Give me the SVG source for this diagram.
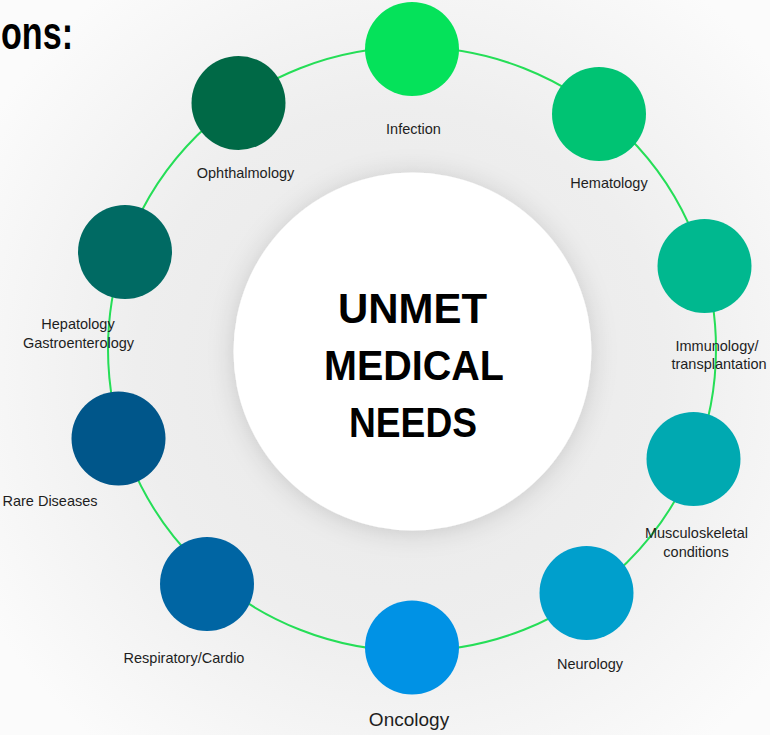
<svg xmlns="http://www.w3.org/2000/svg" width="770" height="735" viewBox="0 0 770 735">
  <defs>
    <radialGradient id="bg" cx="400" cy="370" r="480" gradientUnits="userSpaceOnUse">
      <stop offset="0" stop-color="#e8e8e8"/>
      <stop offset="0.55" stop-color="#eeeeee"/>
      <stop offset="1" stop-color="#fbfbfb"/>
    </radialGradient>
    <filter id="shadow" x="-30%" y="-30%" width="160%" height="160%">
      <feDropShadow dx="0" dy="2" stdDeviation="13" flood-color="#000000" flood-opacity="0.15"/>
    </filter>
    <style>
      .lbl { font-family: "Liberation Sans", Arial, sans-serif; font-size: 14.5px; fill: #1e1e1e; text-anchor: middle; }
      .big { font-family: "Liberation Sans", Arial, sans-serif; font-size: 42px; font-weight: bold; fill: #000; text-anchor: middle; }
      .ring { fill: none; stroke: #25de57; stroke-width: 2; }
    </style>
  </defs>
  <rect x="0" y="0" width="770" height="735" fill="url(#bg)"/>
  <text x="1" y="49" font-family="'Liberation Sans', Arial, sans-serif" font-size="46" font-weight="bold" fill="#000" textLength="72" lengthAdjust="spacingAndGlyphs">ons:</text>

  <g id="connectors">
    <ellipse class="ring" cx="412" cy="349" rx="304" ry="302"/>
  </g>

  <g id="center">
    <circle cx="412.5" cy="351.5" r="179" fill="#ffffff" filter="url(#shadow)"/>
    <text class="big" x="412.5" y="323" textLength="149" lengthAdjust="spacingAndGlyphs">UNMET</text>
    <text class="big" x="414" y="380" textLength="180" lengthAdjust="spacingAndGlyphs">MEDICAL</text>
    <text class="big" x="413" y="437" textLength="128" lengthAdjust="spacingAndGlyphs">NEEDS</text>
  </g>

  <g id="infection">
    <circle cx="412" cy="49" r="47" fill="#05e25a"/>
    <text class="lbl" x="413.5" y="134">Infection</text>
  </g>
  <g id="hematology">
    <circle cx="599" cy="114" r="47" fill="#00c373"/>
    <text class="lbl" x="609" y="188">Hematology</text>
  </g>
  <g id="immunology">
    <circle cx="704.5" cy="266" r="47" fill="#00b88f"/>
    <text class="lbl" x="717" y="351">Immunology/</text>
    <text class="lbl" x="719" y="369">transplantation</text>
  </g>
  <g id="musculoskeletal">
    <circle cx="693.5" cy="459" r="47" fill="#00a9b1"/>
    <text class="lbl" x="696.5" y="538">Musculoskeletal</text>
    <text class="lbl" x="696" y="557">conditions</text>
  </g>
  <g id="neurology">
    <circle cx="586.5" cy="593" r="47" fill="#009fcc"/>
    <text class="lbl" x="590" y="669">Neurology</text>
  </g>
  <g id="oncology">
    <circle cx="412" cy="647.5" r="47" fill="#0092e5"/>
    <text class="lbl" x="409" y="726" style="font-size:19px">Oncology</text>
  </g>
  <g id="respiratory">
    <circle cx="207" cy="584" r="47" fill="#0065a3"/>
    <text class="lbl" x="184" y="663">Respiratory/Cardio</text>
  </g>
  <g id="rare-diseases">
    <circle cx="118.5" cy="438.5" r="47" fill="#00568a"/>
    <text class="lbl" x="50" y="506">Rare Diseases</text>
  </g>
  <g id="hepatology">
    <circle cx="125" cy="252" r="47" fill="#006a63"/>
    <text class="lbl" x="78" y="329">Hepatology</text>
    <text class="lbl" x="78.5" y="348">Gastroenterology</text>
  </g>
  <g id="ophthalmology">
    <circle cx="238.5" cy="103" r="47" fill="#006946"/>
    <text class="lbl" x="245.5" y="178">Ophthalmology</text>
  </g>
</svg>
